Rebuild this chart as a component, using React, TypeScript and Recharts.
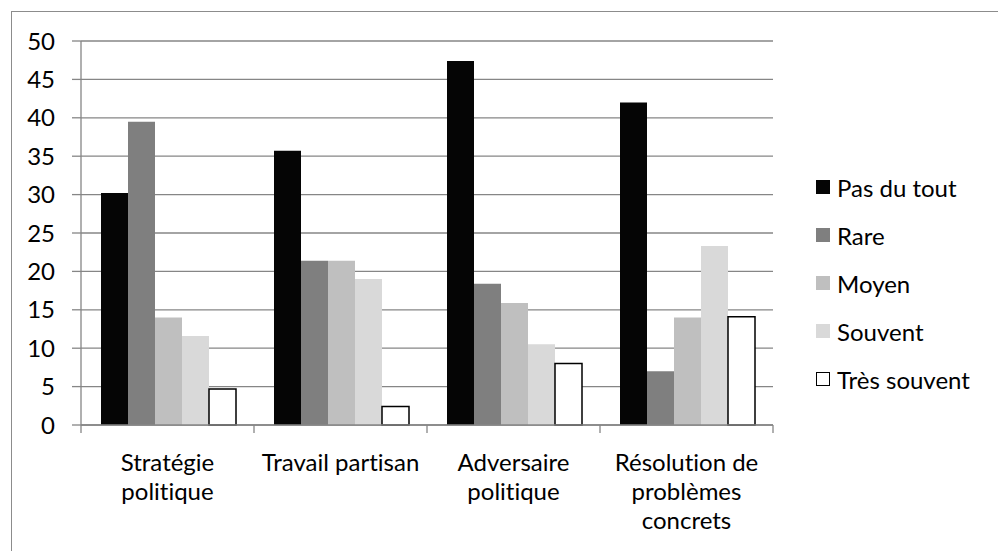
import React from 'react';
import { BarChart, Bar, XAxis, YAxis, CartesianGrid } from 'recharts';

const categories = ['Stratégie\npolitique', 'Travail partisan', 'Adversaire\npolitique', 'Résolution de\nproblèmes\nconcrets'];
const pasDuTout = [30.2, 35.7, 47.4, 42.0];
const rare = [39.5, 21.4, 18.4, 7.0];
const moyen = [14.0, 21.4, 15.9, 14.0];
const souvent = [11.6, 19.0, 10.5, 23.3];
const tresSouvent = [4.7, 2.4, 8.0, 14.1];
const yTicks = [0, 5, 10, 15, 20, 25, 30, 35, 40, 45, 50];

const seriesNames = ['Pas du tout', 'Rare', 'Moyen', 'Souvent', 'Très souvent'];
const seriesKeys = ['pas', 'rare', 'moyen', 'souvent', 'tres'];
const seriesFill = ['#050505', '#7f7f7f', '#bfbfbf', '#d9d9d9', '#ffffff'];
const seriesStroke = ['none', 'none', 'none', 'none', '#000000'];

const data = categories.map((c, i) => ({
  cat: c,
  pas: pasDuTout[i],
  rare: rare[i],
  moyen: moyen[i],
  souvent: souvent[i],
  tres: tresSouvent[i],
}));

const FONT = 'Lato, "Open Sans", sans-serif';
const FS = 24;
const GRID = '#868686';
const NOLIG: React.CSSProperties = { fontVariantLigatures: 'none', fontFeatureSettings: '"liga" 0, "clig" 0' };

const CatTick = (props: any) => {
  const { x, y, payload, index, visibleTicksCount } = props;
  const lines = String(payload.value).split('\n');
  const half = payload && typeof payload.offset === 'number' ? payload.offset : 86.5;
  const isLast = index === (visibleTicksCount ?? categories.length) - 1;
  return (
    <g>
      <line x1={x - half} x2={x - half} y1={y} y2={y + 8} stroke={GRID} strokeWidth={1.3} />
      {isLast && <line x1={x + half} x2={x + half} y1={y} y2={y + 8} stroke={GRID} strokeWidth={1.3} />}
      <text x={x} y={y} textAnchor="middle" fill="#000" fontSize={FS} fontFamily={FONT} style={NOLIG}>
        {lines.map((l: string, i: number) => (
          <tspan key={i} x={x} y={y + 46 + i * 29}>{l}</tspan>
        ))}
      </text>
    </g>
  );
};

const LegendBox = () => (
  <div style={{ position: 'absolute', left: 816, top: 163, fontFamily: FONT, fontSize: FS, color: '#000', ...NOLIG }}>
    {seriesNames.map((n, i) => (
      <div key={n} style={{ display: 'flex', alignItems: 'center', height: 48, whiteSpace: 'nowrap' }}>
        <span
          style={{
            display: 'inline-block',
            width: 14,
            height: 14,
            background: seriesFill[i],
            border: i === 4 ? '1.5px solid #000' : 'none',
            boxSizing: 'border-box',
            marginRight: 7,
          }}
        />
        <span>{n}</span>
      </div>
    ))}
  </div>
);

export default function App() {
  return (
    <div style={{ position: 'absolute', left: 0, top: 0, width: 998, height: 551, overflow: 'hidden', background: '#fff' }}>
      <div style={{ position: 'absolute', left: 11, top: 11, width: 1200, height: 800, borderLeft: '1px solid #8c8c8c', borderTop: '1px solid #8c8c8c' }} />
      <div style={{ position: 'absolute', left: 0, top: 0 }}>
        <BarChart
          width={998}
          height={551}
          data={data}
          margin={{ top: 41, right: 225, bottom: 0, left: 0 }}
          barCategoryGap={20}
          barGap={0}
        >
          <CartesianGrid horizontal vertical={false} stroke={GRID} strokeWidth={1.3} />
          <XAxis
            dataKey="cat"
            height={126}
            tick={<CatTick />}
            tickLine={false}
            tickSize={0}
            tickMargin={0}
            axisLine={{ stroke: GRID, strokeWidth: 1.3 }}
            interval={0}
          />
          <YAxis
            width={81}
            domain={[0, 50]}
            ticks={yTicks}
            interval={0}
            tickSize={9}
            tickMargin={17}
            tick={{ fill: '#000', fontSize: FS, fontFamily: FONT }}
            axisLine={{ stroke: GRID, strokeWidth: 1.3 }}
            tickLine={{ stroke: GRID, strokeWidth: 1.3 }}
          />
          {seriesKeys.map((k, i) => (
            <Bar
              key={k}
              dataKey={k}
              name={seriesNames[i]}
              fill={seriesFill[i]}
              stroke={seriesStroke[i]}
              strokeWidth={i === 4 ? 1.5 : 0}
              isAnimationActive={false}
            />
          ))}
        </BarChart>
      </div>
      <LegendBox />
    </div>
  );
}
